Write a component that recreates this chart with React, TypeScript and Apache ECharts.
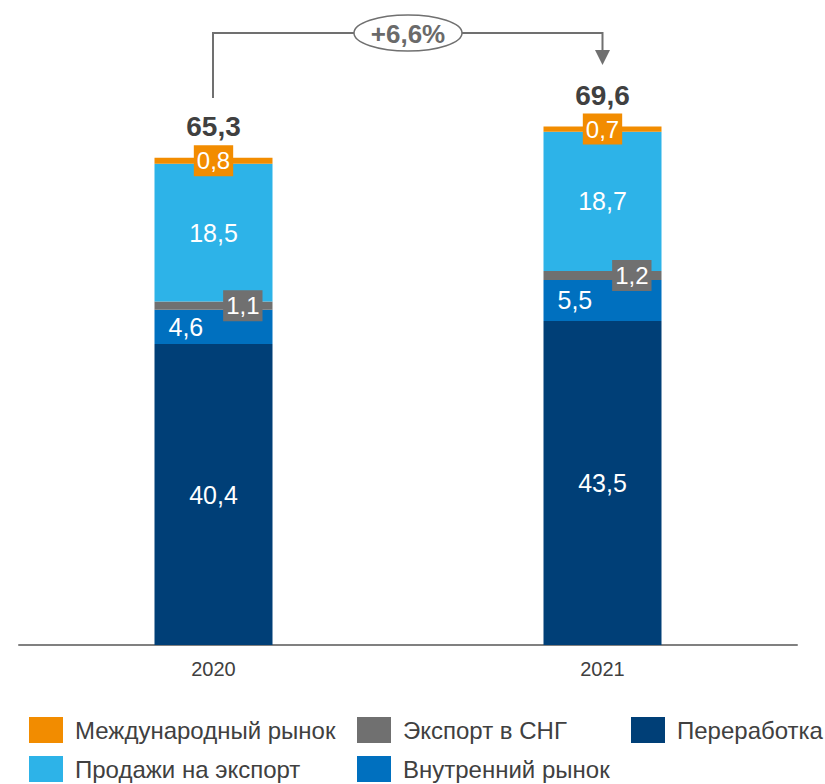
import React, { useEffect, useRef } from "react";
import * as echarts from "echarts";

const categories = ["2020", "2021"];
const pererabotka = [40.4, 43.5];
const vnutrenniy = [4.6, 5.5];
const eksportSNG = [1.1, 1.2];
const prodazhiEksport = [18.5, 18.7];
const mezhdunarodny = [0.8, 0.7];
const totals = [65.3, 69.6];
const growthLabel = "+6,6%";

const FONT = "'Liberation Sans Narrow', 'Arial Narrow', 'Liberation Sans', Arial, sans-serif";
const fmt = (v: number) => v.toFixed(1).replace(".", ",");

const COLORS = {
  navy: "#003f77",
  blue: "#0070bf",
  gray: "#707070",
  light: "#2db3e8",
  orange: "#f28c00",
};

export default function App() {
  const ref = useRef<HTMLDivElement>(null);
  useEffect(() => {
    document.body.style.margin = "0";
    const chart = echarts.init(ref.current!, null, { renderer: "svg" });
    const whiteInside = {
      show: true,
      color: "#ffffff",
      fontSize: 25,
      fontFamily: FONT,
      formatter: (p: any) => fmt(p.value),
    };
    const legendBase = {
      top: 717, orient: "vertical", padding: 0, itemGap: 13,
      itemWidth: 34, itemHeight: 26, icon: "rect",
      textStyle: { fontSize: 24, color: "#404040", fontFamily: FONT, padding: [0, 0, 0, 7] },
    };
    const option: any = {
      animation: false,
      grid: { left: 19, right: 28, top: 49, bottom: 139 },
      xAxis: {
        type: "category",
        data: categories,
        axisLine: { show: true, lineStyle: { color: "#808080", width: 2 } },
        axisTick: { show: false },
        axisLabel: { color: "#404040", fontSize: 20, fontFamily: FONT, margin: 14 },
      },
      yAxis: { type: "value", min: 0, max: 80, show: false, splitLine: { show: false } },
      legend: [
        { ...legendBase, left: 29, data: ["Международный рынок", "Продажи на экспорт"] },
        { ...legendBase, left: 357, data: ["Экспорт в СНГ", "Внутренний рынок"] },
        { ...legendBase, left: 631, data: ["Переработка"] },
      ],
      series: [
        {
          name: "Переработка", type: "bar", stack: "t", barWidth: 118,
          itemStyle: { color: COLORS.navy }, data: pererabotka,
          label: { ...whiteInside, position: "inside" },
        },
        {
          name: "Внутренний рынок", type: "bar", stack: "t",
          itemStyle: { color: COLORS.blue }, data: vnutrenniy,
          label: { ...whiteInside, position: "insideLeft", distance: 14 },
        },
        {
          name: "Экспорт в СНГ", type: "bar", stack: "t",
          itemStyle: { color: COLORS.gray }, data: eksportSNG,
          label: {
            ...whiteInside, fontSize: 24, position: "insideRight", distance: 10,
            backgroundColor: COLORS.gray, padding: [3, 3, 2, 3], lineHeight: 26,
          },
        },
        {
          name: "Продажи на экспорт", type: "bar", stack: "t",
          itemStyle: { color: COLORS.light }, data: prodazhiEksport,
          label: { ...whiteInside, position: "inside" },
        },
        {
          name: "Международный рынок", type: "bar", stack: "t",
          itemStyle: { color: COLORS.orange }, data: mezhdunarodny,
          label: {
            ...whiteInside, fontSize: 24, position: "inside",
            backgroundColor: COLORS.orange, padding: [3, 3, 2, 3], lineHeight: 26,
          },
        },
        {
          name: "Итого", type: "bar", stack: "t",
          itemStyle: { color: "transparent" }, data: totals.map(() => 0),
          label: {
            show: true, position: "top", distance: 17,
            color: "#404040", fontSize: 28, fontWeight: "bold", fontFamily: FONT,
            formatter: (p: any) => fmt(totals[p.dataIndex]),
          },
        },
      ],
      graphic: [
        {
          type: "polyline", silent: true,
          shape: { points: [[213, 98], [213, 33], [354, 33]] },
          style: { stroke: "#707070", lineWidth: 2, fill: null },
        },
        {
          type: "polyline", silent: true,
          shape: { points: [[462, 33], [602.5, 33], [602.5, 52]] },
          style: { stroke: "#707070", lineWidth: 2, fill: null },
        },
        {
          type: "polygon", silent: true,
          shape: { points: [[595, 50], [610, 50], [602.5, 65]] },
          style: { fill: "#707070" },
        },
        {
          type: "ellipse", silent: true,
          shape: { cx: 408, cy: 33, rx: 54, ry: 18 },
          style: { stroke: "#707070", lineWidth: 1.5, fill: "#ffffff" },
        },
        {
          type: "text", silent: true, x: 408, y: 34,
          style: {
            text: growthLabel, fill: "#6a6a6a", font: `bold 26px ${FONT}`,
            textAlign: "center", textVerticalAlign: "middle",
          },
        },
      ],
    };
    chart.setOption(option);
    return () => chart.dispose();
  }, []);
  return (
    <div
      ref={ref}
      style={{ position: "absolute", left: 0, top: 0, width: 825, height: 784, background: "#ffffff" }}
    />
  );
}
